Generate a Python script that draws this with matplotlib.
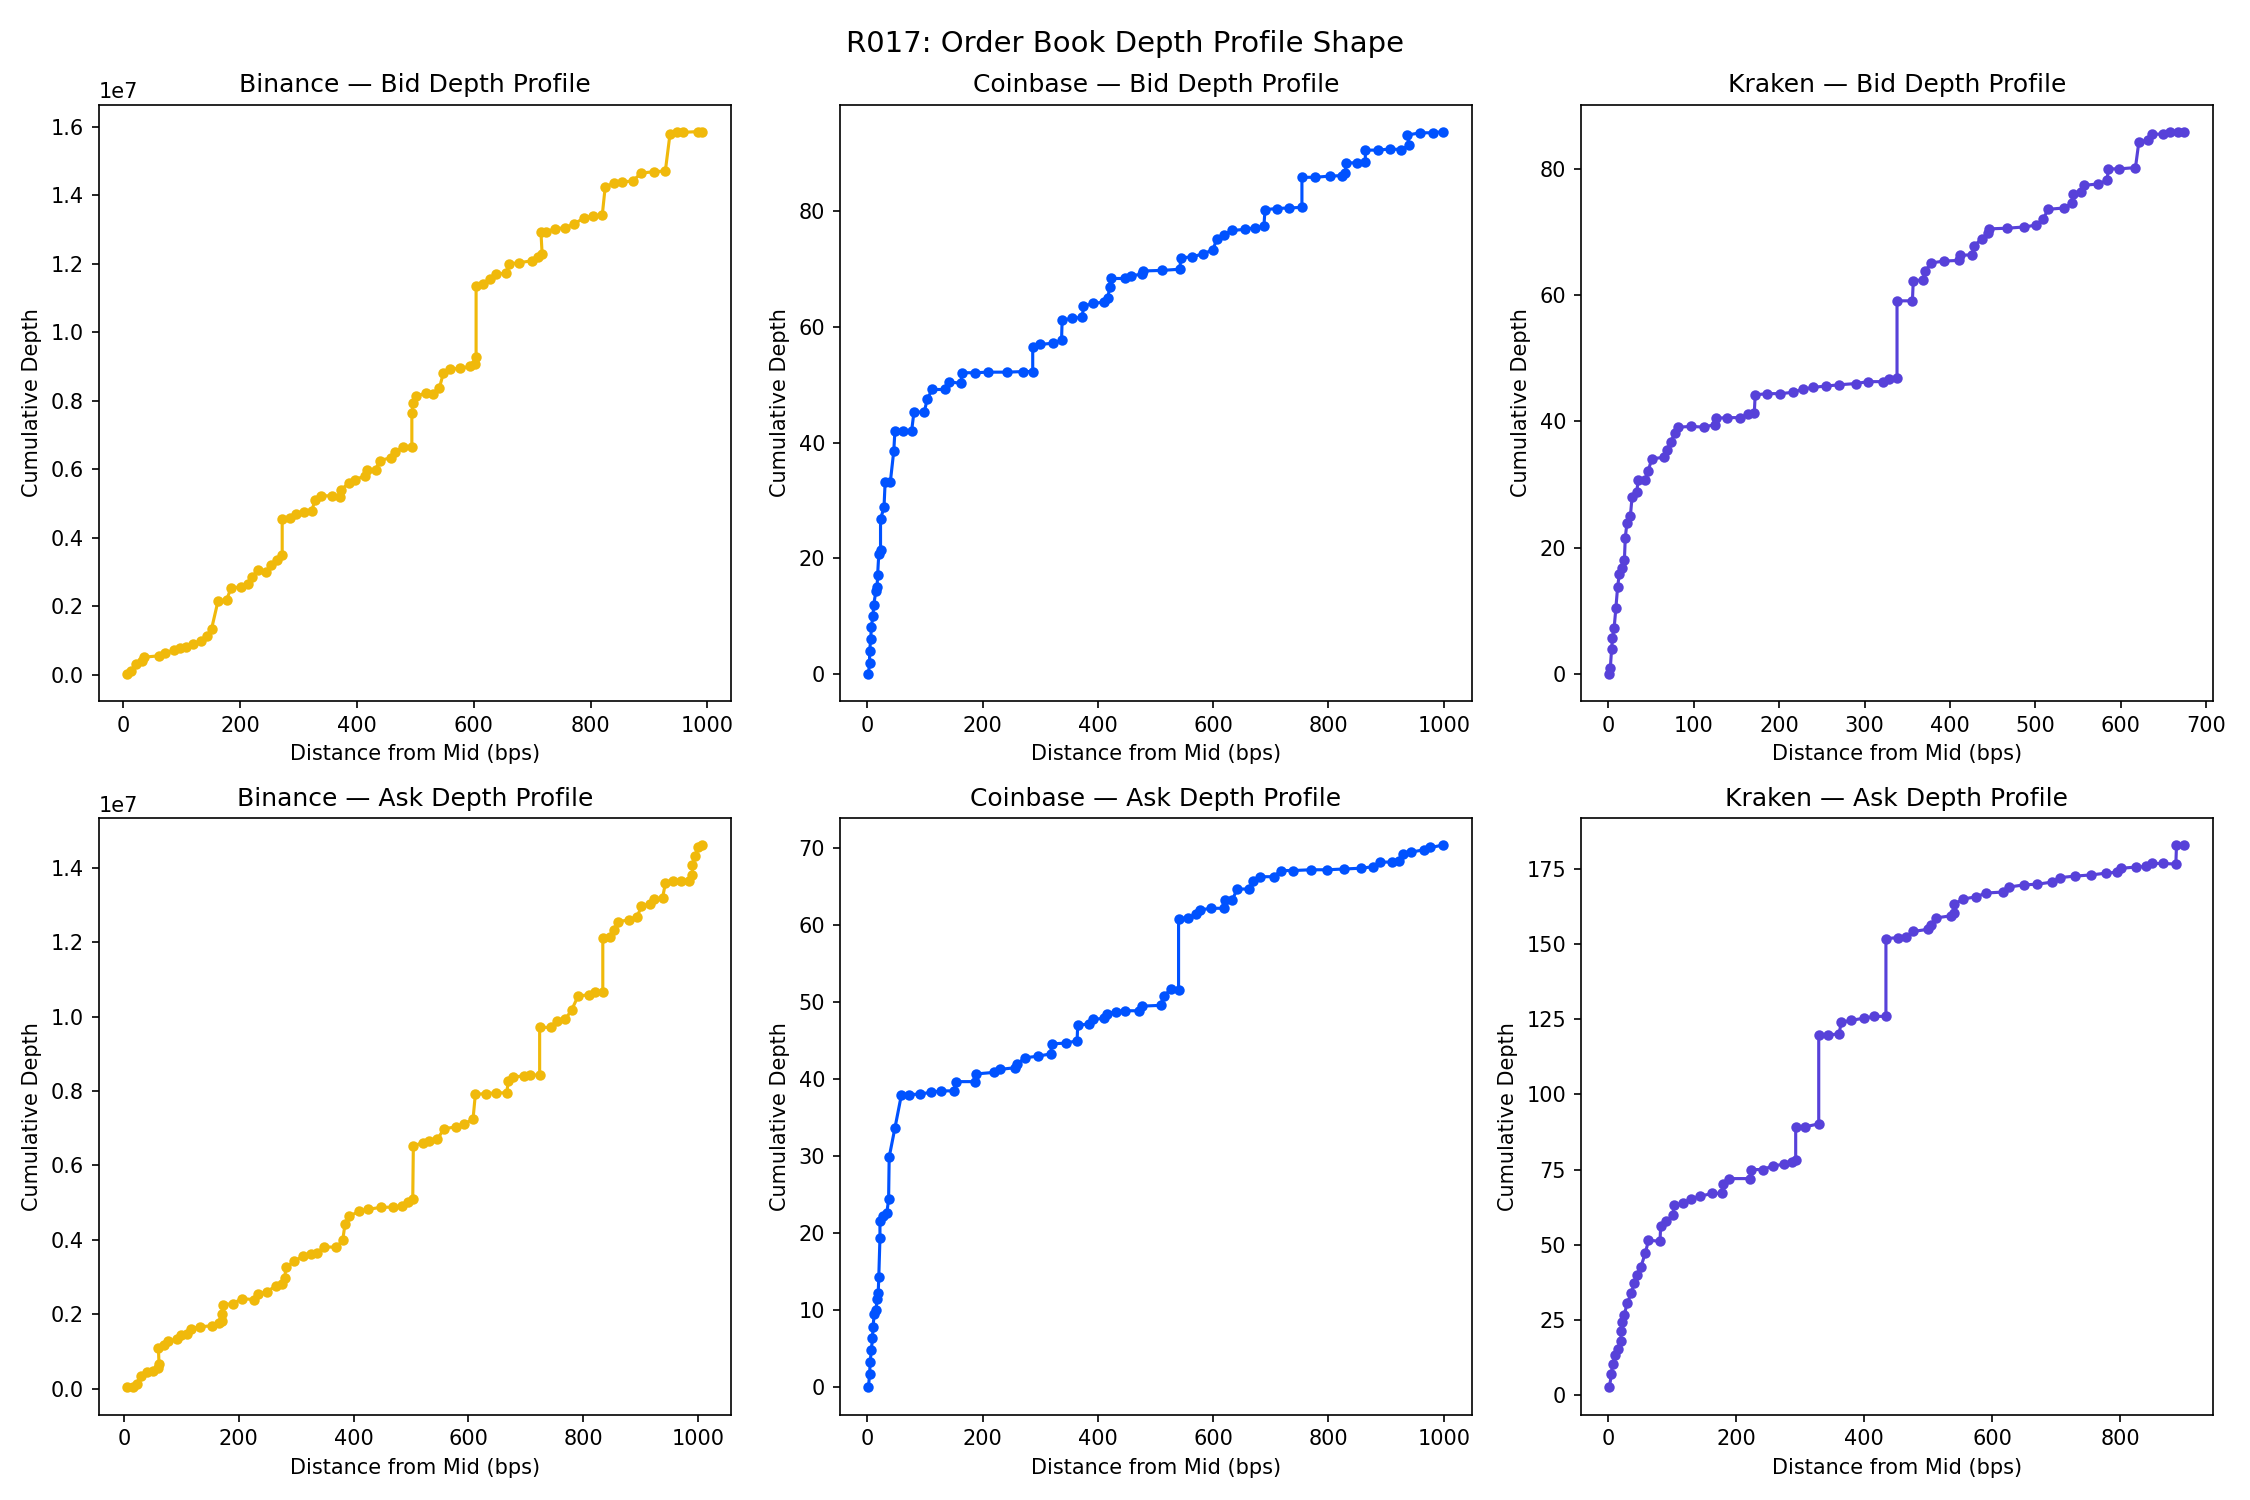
import numpy as np
import matplotlib
matplotlib.use('Agg')
import matplotlib.pyplot as plt

exchanges = ['Binance', 'Coinbase', 'Kraken']
colors = {'Binance': '#F0B90B', 'Coinbase': '#0052FF', 'Kraken': '#5741D9'}

# distance from mid (bps) and cumulative depth
binance_bid_x = [7, 14, 22, 32, 36, 61, 72, 86, 97, 108, 119, 133, 144, 151, 162, 177, 184, 202, 213, 220,
                 231, 245, 252, 263, 272, 272, 285, 296, 310, 323, 328, 339, 357, 371, 373, 386, 396, 414, 418, 432,
                 439, 458, 465, 479, 494, 494, 496, 501, 519, 530, 541, 548, 559, 577, 594, 602, 604, 604, 616, 627,
                 638, 656, 660, 677, 699, 710, 717, 715, 724, 739, 757, 771, 789, 804, 820, 825, 840, 854, 872, 887,
                 908, 928, 936, 948, 959, 984, 991]
binance_bid_y = [0.003, 0.012, 0.033, 0.04, 0.052, 0.056, 0.064, 0.072, 0.079, 0.081, 0.091, 0.099, 0.114, 0.134,
                 0.215, 0.219, 0.253, 0.258, 0.265, 0.287, 0.305, 0.302, 0.32, 0.335, 0.349, 0.456, 0.459, 0.471,
                 0.477, 0.479, 0.512, 0.523, 0.523, 0.52, 0.541, 0.56, 0.57, 0.581, 0.599, 0.599, 0.626, 0.634,
                 0.651, 0.665, 0.665, 0.765, 0.793, 0.814, 0.823, 0.82, 0.837, 0.881, 0.893, 0.895, 0.901, 0.907,
                 0.928, 1.136, 1.14, 1.157, 1.169, 1.174, 1.2, 1.203, 1.209, 1.221, 1.23, 1.294, 1.294, 1.302,
                 1.306, 1.316, 1.334, 1.34, 1.342, 1.424, 1.436, 1.439, 1.442, 1.465, 1.469, 1.471, 1.579, 1.584,
                 1.584, 1.586, 1.586]

binance_ask_x = [6, 15, 22, 29, 40, 51, 59, 61, 60, 70, 77, 92, 99, 110, 117, 132, 154, 165, 170, 171,
                 172, 190, 205, 227, 234, 249, 264, 275, 280, 282, 297, 311, 326, 337, 348, 370, 381, 385, 392, 410,
                 425, 447, 469, 484, 494, 503, 504, 520, 531, 546, 557, 579, 593, 608, 612, 630, 648, 667, 669, 678,
                 696, 707, 724, 724, 744, 755, 769, 780, 791, 810, 821, 834, 834, 846, 853, 861, 879, 894, 901, 916,
                 923, 938, 943, 956, 971, 985, 990, 990, 995, 1000, 1007]
binance_ask_y = [0.003, 0.005, 0.011, 0.035, 0.044, 0.048, 0.055, 0.067, 0.110, 0.116, 0.128, 0.132, 0.144, 0.148,
                 0.161, 0.166, 0.169, 0.176, 0.182, 0.201, 0.226, 0.228, 0.242, 0.239, 0.255, 0.260, 0.276, 0.281,
                 0.297, 0.326, 0.342, 0.356, 0.361, 0.365, 0.381, 0.380, 0.399, 0.442, 0.463, 0.477, 0.482, 0.487,
                 0.488, 0.490, 0.501, 0.509, 0.652, 0.661, 0.666, 0.670, 0.698, 0.704, 0.711, 0.725, 0.791, 0.793,
                 0.795, 0.795, 0.827, 0.837, 0.841, 0.843, 0.843, 0.971, 0.971, 0.987, 0.993, 1.019, 1.055, 1.059,
                 1.065, 1.067, 1.212, 1.215, 1.233, 1.255, 1.260, 1.268, 1.297, 1.303, 1.316, 1.319, 1.358, 1.364,
                 1.364, 1.365, 1.381, 1.407, 1.433, 1.455, 1.461]

coinbase_bid_x = [2, 4, 4, 6, 7, 10, 11, 15, 17, 18, 20, 23, 23, 29, 31, 40, 46, 48, 62, 77,
                  81, 99, 104, 113, 135, 141, 162, 165, 187, 209, 242, 271, 287, 287, 300, 322, 337, 338, 355, 373,
                  375, 392, 410, 417, 421, 422, 447, 457, 476, 479, 512, 542, 544, 564, 582, 600, 606, 619, 633, 655,
                  673, 688, 690, 710, 732, 754, 754, 776, 802, 824, 829, 831, 849, 864, 864, 886, 907, 926, 940, 937,
                  959, 981, 999]
coinbase_bid_y = [0, 1.9, 3.9, 6.0, 8.1, 10.1, 11.9, 14.3, 15.0, 17.2, 20.8, 21.4, 26.8, 28.8, 33.2, 33.2, 38.6,
                  42.1, 42.1, 42.1, 45.3, 45.3, 47.6, 49.2, 49.2, 50.5, 50.3, 52.1, 52.1, 52.2, 52.2, 52.3, 52.3,
                  56.5, 57.0, 57.2, 57.7, 61.2, 61.5, 61.7, 63.6, 64.1, 64.3, 65.0, 67.0, 68.4, 68.4, 68.9, 69.1,
                  69.7, 69.8, 70.0, 71.9, 72.2, 72.6, 73.4, 75.2, 76.0, 76.7, 76.9, 77.2, 77.4, 80.3, 80.5, 80.6,
                  80.7, 85.9, 85.9, 86.1, 86.2, 86.7, 88.4, 88.4, 88.5, 90.6, 90.6, 90.8, 90.7, 91.4, 93.2, 93.6,
                  93.6, 93.8]

coinbase_ask_x = [2, 4, 5, 7, 9, 10, 12, 15, 17, 19, 20, 22, 22, 28, 34, 37, 38, 48, 59, 73,
                  92, 110, 128, 150, 154, 187, 189, 220, 231, 256, 260, 274, 296, 318, 320, 344, 364, 365, 384, 392,
                  410, 415, 432, 447, 472, 476, 509, 514, 527, 540, 540, 556, 571, 578, 597, 619, 621, 633, 642, 662,
                  670, 681, 706, 717, 739, 769, 798, 827, 856, 878, 889, 911, 922, 930, 944, 966, 977, 999]
coinbase_ask_y = [0, 1.7, 3.3, 4.8, 6.4, 7.9, 9.5, 10.0, 11.5, 12.3, 14.4, 19.4, 21.6, 22.3, 22.7, 24.4, 29.9,
                  33.7, 37.9, 38.0, 38.1, 38.3, 38.5, 38.5, 39.7, 39.7, 40.7, 40.9, 41.3, 41.5, 42.0, 42.8, 43.0,
                  43.3, 44.6, 44.7, 45.0, 47.0, 47.2, 47.8, 47.9, 48.5, 48.8, 48.9, 48.9, 49.5, 49.6, 50.8, 51.7,
                  51.6, 60.8, 61.0, 61.4, 62.0, 62.2, 62.2, 63.3, 63.3, 64.7, 64.7, 65.7, 66.3, 66.3, 67.1, 67.1,
                  67.2, 67.2, 67.3, 67.4, 67.6, 68.2, 68.2, 68.4, 69.2, 69.5, 69.8, 70.1, 70.4]

kraken_bid_x = [1.5, 2.5, 4, 5, 7, 9, 11, 13, 16, 19, 20, 22, 26, 28, 33.5, 35, 43, 47, 51, 65.5,
                69, 73, 78, 82, 97.5, 112, 125, 126, 139, 154, 164, 171, 172, 186, 201, 216, 228, 240, 255, 270,
                290, 304, 322, 329, 338, 338, 356, 357, 368, 371, 378, 393, 410, 412, 426, 428, 437, 445, 446, 467,
                487, 501, 509, 515, 533, 543, 544, 553, 557, 573, 584, 585, 598, 617, 621, 632, 636, 649, 657, 667,
                674]
kraken_bid_y = [0, 0.9, 3.9, 5.7, 7.3, 10.4, 13.7, 15.8, 16.8, 18.0, 21.6, 23.9, 25.0, 28.1, 28.8, 30.7, 30.8,
                32.2, 34.1, 34.3, 35.4, 36.7, 38.1, 39.1, 39.2, 39.1, 39.5, 40.5, 40.6, 40.6, 41.1, 41.3, 44.2,
                44.4, 44.4, 44.6, 45.1, 45.4, 45.6, 45.8, 46.0, 46.3, 46.3, 46.7, 46.8, 59.1, 59.1, 62.3, 62.4,
                63.8, 65.1, 65.4, 65.5, 66.3, 66.4, 67.8, 68.9, 69.8, 70.5, 70.6, 70.8, 71.1, 72.1, 73.6, 73.8,
                74.6, 76.0, 76.3, 77.4, 77.6, 78.2, 80.0, 80.0, 80.2, 84.3, 84.5, 85.5, 85.5, 85.8, 85.9, 85.8]

kraken_ask_x = [2, 5, 7, 11, 15, 20, 20, 22, 25, 30, 36, 41, 45, 51, 58, 63, 81, 82, 91, 101,
                103, 117, 130, 143, 163, 178, 180, 189, 222, 223, 242, 258, 275, 288, 293, 293, 308, 329, 329, 344,
                361, 364, 380, 400, 416, 434, 434, 453, 466, 476, 499, 505, 512, 535, 541, 541, 555, 574, 591, 617,
                627, 650, 670, 693, 706, 729, 755, 778, 795, 801, 824, 841, 850, 867, 887, 888, 900]
kraken_ask_y = [2.6, 7.1, 10.4, 13.5, 15.5, 18.1, 21.4, 24.3, 26.7, 30.7, 34.0, 37.3, 39.9, 42.6, 47.2, 51.5,
                51.2, 56.1, 57.8, 59.8, 63.1, 63.8, 65.3, 66.1, 67.1, 67.1, 70.1, 72.0, 72.0, 75.0, 75.0, 76.3,
                76.7, 77.4, 78.3, 89.2, 89.2, 90.2, 119.6, 119.6, 120.2, 123.9, 124.6, 125.3, 125.9, 125.9, 151.7,
                152.1, 152.4, 154.1, 154.8, 156.1, 158.6, 159.3, 160.3, 163.2, 164.9, 165.6, 166.9, 167.2, 168.9,
                169.6, 169.8, 170.5, 172.0, 172.5, 172.9, 173.5, 173.8, 175.1, 175.5, 175.7, 176.7, 176.7, 176.5,
                182.8, 182.8]

profiles = {
    ('Binance', 'Bid'): (binance_bid_x, np.array(binance_bid_y) * 1e7),
    ('Coinbase', 'Bid'): (coinbase_bid_x, coinbase_bid_y),
    ('Kraken', 'Bid'): (kraken_bid_x, kraken_bid_y),
    ('Binance', 'Ask'): (binance_ask_x, np.array(binance_ask_y) * 1e7),
    ('Coinbase', 'Ask'): (coinbase_ask_x, coinbase_ask_y),
    ('Kraken', 'Ask'): (kraken_ask_x, kraken_ask_y),
}

fig, axes = plt.subplots(2, 3, figsize=(15, 10), dpi=150)
for row, side in enumerate(['Bid', 'Ask']):
    for col, ex in enumerate(exchanges):
        ax = axes[row, col]
        x, y = profiles[(ex, side)]
        ax.plot(x, y, '-o', color=colors[ex], markersize=4, linewidth=1.5)
        ax.set_title(f'{ex} — {side} Depth Profile', fontsize=12)
        ax.set_xlabel('Distance from Mid (bps)')
        ax.set_ylabel('Cumulative Depth')

fig.suptitle('R017: Order Book Depth Profile Shape', fontsize=14)
plt.tight_layout()
plt.savefig('out.png', dpi=150)
